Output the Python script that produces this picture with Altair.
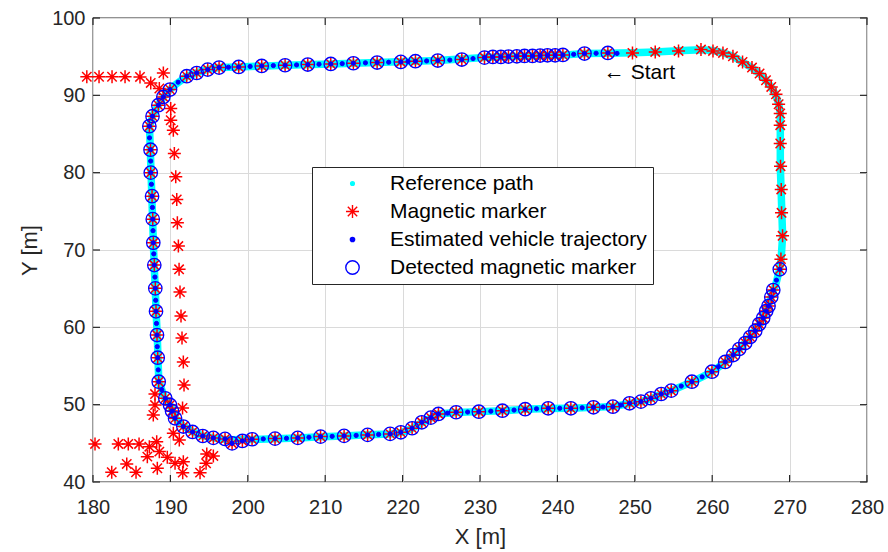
import altair as alt
import pandas as pd

SERIES = ["Reference path", "Magnetic marker", "Estimated vehicle trajectory", "Detected magnetic marker"]
STAR = "M-1,0L1,0M0,-1L0,1M-0.72,-0.72L0.72,0.72M-0.72,0.72L0.72,-0.72"

# Reference path (closed loop), in data units
ref_x = [260.1, 258.5, 255.6, 252.6, 249.7, 246.5, 243.5, 240.7, 236.0, 230.6, 224.5, 216.7, 210.7, 204.8,
         198.8, 196.3, 194.8, 193.4, 192.1, 190.8, 189.9, 189.1, 188.4, 187.7, 187.3, 187.4, 187.5, 187.6,
         187.7, 187.8, 187.9, 188.05, 188.15, 188.3, 188.4, 188.5, 189.3, 190.0, 190.6, 191.7, 192.9, 194.2,
         195.6, 197.5, 200.5, 203.5, 206.5, 209.4, 212.4, 215.5, 218.4, 219.8, 221.2, 222.5, 223.7, 224.6,
         226.9, 229.9, 232.9, 235.8, 238.8, 241.7, 244.7, 247.2, 249.3, 250.8, 252.1, 253.4, 254.7, 257.4,
         260.0, 261.7, 263.5, 264.9, 266.1, 267.0, 267.6, 268.2, 268.7, 268.9, 269.1, 269.0, 268.9, 268.8,
         268.8, 268.8, 268.8, 268.6, 268.2, 267.6, 266.95, 266.1, 265.1, 263.9, 262.7, 261.4, 260.1]
ref_y = [95.8, 95.9, 95.75, 95.6, 95.5, 95.45, 95.4, 95.2, 95.1, 94.88, 94.5, 94.24, 94.06, 93.89,
         93.67, 93.6, 93.35, 92.9, 92.45, 91.5, 90.7, 89.8, 88.7, 87.3, 86.0, 83.0, 80.0, 77.0,
         74.0, 71.0, 68.0, 65.0, 62.0, 59.0, 56.0, 53.0, 50.8, 49.9, 48.3, 47.2, 46.5, 45.95,
         45.7, 45.45, 45.5, 45.6, 45.7, 45.85, 45.95, 46.1, 46.2, 46.4, 46.9, 47.7, 48.3, 48.8,
         49.0, 49.1, 49.2, 49.4, 49.5, 49.55, 49.65, 49.75, 50.15, 50.4, 50.8, 51.35, 51.8, 52.95,
         54.25, 55.5, 57.2, 58.75, 60.4, 62.1, 63.9, 65.5, 67.5, 68.8, 71.8, 74.8, 77.8, 80.8,
         83.8, 86.1, 87.65, 88.85, 90.1, 91.1, 91.95, 92.8, 93.6, 94.3, 95.05, 95.5, 95.8]

# Detected magnetic markers (blue circles)
det_x = [246.52, 243.50, 240.71, 239.71, 238.72, 237.77, 236.78, 235.75, 234.76, 233.68, 232.70, 231.66,
         230.58, 227.65, 224.55, 221.66, 219.77, 216.71, 213.64, 210.72, 207.75, 204.82, 201.80, 198.83,
         196.29, 194.82, 193.40, 192.11, 189.95, 189.09, 188.44, 187.69, 187.28, 187.43, 187.46, 187.63,
         187.72, 187.79, 187.92, 188.05, 188.14, 188.27, 188.36, 188.49, 189.34, 189.95, 190.21, 190.60,
         191.67, 192.86, 194.18, 195.55, 197.06, 197.97, 199.30, 200.55, 203.52, 206.46, 209.40, 212.44,
         215.48, 218.39, 219.77, 221.23, 222.48, 223.65, 224.63, 226.92, 229.85, 232.90, 235.84, 238.81,
         241.74, 244.66, 247.17, 249.32, 250.79, 252.08, 253.41, 254.71, 257.38, 259.97, 261.68, 262.72,
         263.49, 264.27, 264.91, 265.56, 266.08, 266.59, 266.98, 267.28, 267.63, 267.89, 268.73]
det_y = [95.48, 95.40, 95.22, 95.18, 95.18, 95.14, 95.09, 95.09, 95.05, 95.01, 94.96, 94.96,
         94.88, 94.63, 94.50, 94.41, 94.32, 94.24, 94.15, 94.06, 93.98, 93.89, 93.80, 93.67,
         93.59, 93.33, 92.89, 92.47, 90.75, 89.79, 88.72, 87.30, 86.01, 82.97, 80.00, 76.96,
         73.99, 70.93, 68.05, 65.04, 62.07, 59.00, 56.07, 52.97, 50.83, 49.96, 49.18, 48.24,
         47.17, 46.47, 45.95, 45.70, 45.57, 44.99, 45.31, 45.53, 45.61, 45.70, 45.87, 45.96,
         46.09, 46.22, 46.43, 46.95, 47.72, 48.32, 48.80, 49.02, 49.09, 49.22, 49.41, 49.53,
         49.53, 49.66, 49.74, 50.18, 50.39, 50.83, 51.38, 51.81, 52.97, 54.26, 55.52, 56.42,
         57.20, 57.97, 58.75, 59.53, 60.43, 61.20, 62.11, 62.75, 63.91, 64.82, 67.50]

# Magnetic markers not detected (red asterisks only)
und_x = [249.70, 252.64, 255.65, 258.55, 260.10, 261.39, 262.68, 263.92, 265.14, 266.12, 266.95, 267.63,
         268.24, 268.58, 268.79, 268.79, 268.79, 268.83, 268.92, 268.96, 269.09, 268.88,
         189.09, 188.57, 190.04, 190.04, 190.38, 190.51, 190.69, 190.82, 190.90, 191.03, 191.12, 191.24,
         191.37, 191.50, 191.67, 191.76, 191.57,
         179.2, 180.78, 182.46, 184.14, 186.07, 187.46,
         180.26, 183.27, 184.56, 185.95, 187.28, 188.23, 187.02, 188.57, 189.60, 190.60, 182.42, 184.36,
         185.56, 188.31, 190.38, 191.15, 191.67, 191.59, 193.83, 194.70, 195.55, 194.61, 188.01, 188.01, 187.79]
und_y = [95.48, 95.61, 95.74, 95.92, 95.74, 95.48, 95.05, 94.32, 93.59, 92.82, 91.95, 91.09,
         90.14, 88.85, 87.65, 86.14, 83.77, 80.84, 77.83, 74.81, 71.83, 68.82,
         92.89, 90.88, 88.29, 86.78, 85.49, 82.48, 79.46, 76.54, 73.51, 70.51, 67.50, 64.56,
         61.46, 58.62, 55.52, 52.55, 49.57,
         92.4, 92.4, 92.4, 92.41, 92.38, 91.60,
         44.92, 44.92, 44.92, 44.92, 44.57, 45.21, 43.28, 43.93, 43.20, 42.42, 41.26, 42.34,
         41.26, 41.78, 46.30, 45.43, 42.63, 41.21, 41.21, 43.63, 43.37, 42.42, 51.37, 49.95, 48.66]

# Estimated vehicle trajectory dots between detections
mid_x = [247.7, 245.0, 242.1, 229.1, 226.1, 223.1, 220.7, 218.2, 215.2, 212.2, 209.2, 206.3, 203.3, 200.3,
         197.5, 191.0, 187.3, 187.45, 187.55, 187.68, 187.75, 187.85, 188.0, 188.1, 188.2, 188.3, 188.43,
         188.9, 202.0, 205.0, 207.9, 210.9, 214.0, 216.9, 225.8, 228.4, 231.4, 234.4, 237.3, 240.3, 243.2,
         245.9, 248.2, 256.0, 258.7, 260.8, 268.3]
mid_y = [95.42, 95.44, 95.3, 94.75, 94.56, 94.45, 94.37, 94.28, 94.2, 94.1, 94.02, 93.93, 93.85, 93.73,
         93.63, 91.7, 84.5, 81.5, 78.5, 75.5, 72.5, 69.5, 66.5, 63.5, 60.5, 57.5, 54.5,
         51.9, 45.57, 45.65, 45.78, 45.9, 46.02, 46.15, 48.9, 49.05, 49.15, 49.3, 49.47, 49.53, 49.6,
         49.7, 49.95, 52.4, 53.6, 54.9, 66.1]

start_x = [246.0]
start_y = [92.9]
x_ticks = [180, 190, 200, 210, 220, 230, 240, 250, 260, 270, 280]
y_ticks = [40, 50, 60, 70, 80, 90, 100]

ref_df = pd.DataFrame({"x": ref_x, "y": ref_y, "i": list(range(len(ref_x))), "series": SERIES[0]})
mag_df = pd.DataFrame({"x": det_x + und_x, "y": det_y + und_y, "series": SERIES[1]})
est_df = pd.DataFrame({"x": det_x + mid_x, "y": det_y + mid_y, "series": SERIES[2]})
det_df = pd.DataFrame({"x": det_x, "y": det_y, "series": SERIES[3]})

X = alt.X("x:Q", scale=alt.Scale(domain=[180, 280], nice=False, zero=False),
          axis=alt.Axis(values=x_ticks, title="X [m]", format="d"))
Y = alt.Y("y:Q", scale=alt.Scale(domain=[40, 100], nice=False, zero=False),
          axis=alt.Axis(values=y_ticks, title="Y [m]", format="d"))

leg = alt.Legend(orient="none", legendX=219, legendY=149, title=None, padding=6, rowPadding=6,
                 labelFontSize=21, labelFont="Liberation Sans", labelColor="#000000",
                 strokeColor="#262626", fillColor="#ffffff", symbolOffset=24, labelOffset=27,
                 symbolStrokeWidth=1.4, symbolOpacity=1, labelLimit=400)

enc_common = dict(
    fill=alt.Fill("series:N", scale=alt.Scale(domain=SERIES, range=["#00ffff", "#ff0000", "#0000ff", "transparent"]), legend=leg),
    stroke=alt.Stroke("series:N", scale=alt.Scale(domain=SERIES, range=["#00ffff", "#ff0000", "#0000ff", "#0000ff"]), legend=leg),
    shape=alt.Shape("series:N", scale=alt.Scale(domain=SERIES, range=["circle", STAR, "circle", "circle"]), legend=leg),
    size=alt.Size("series:N", scale=alt.Scale(type="ordinal", domain=SERIES, range=[14, 170, 18, 180]), legend=leg),
)

ref_line = alt.Chart(ref_df).mark_line(color="#00ffff", strokeWidth=7.5, strokeJoin="round").encode(
    x=X, y=Y, order="i:Q")
ref_pts = alt.Chart(ref_df).mark_point(opacity=1, strokeWidth=1).encode(x=X, y=Y, **enc_common)
mag_pts = alt.Chart(mag_df).mark_point(opacity=1, strokeWidth=1.5).encode(x=X, y=Y, **enc_common)
est_pts = alt.Chart(est_df).mark_point(opacity=1, strokeWidth=1).encode(x=X, y=Y, **enc_common)
det_pts = alt.Chart(det_df).mark_point(opacity=1, strokeWidth=1.3).encode(x=X, y=Y, **enc_common)

start_txt = alt.Chart(pd.DataFrame({"x": start_x, "y": start_y})).mark_text(
    text="← Start", align="left", baseline="middle", fontSize=21, font="Liberation Sans", color="#000000"
).encode(x=X, y=Y)

xt = pd.DataFrame({"x": x_ticks})
yt = pd.DataFrame({"y": y_ticks})
tick_col = "#262626"
t_bot = alt.Chart(xt).mark_rule(color=tick_col, strokeWidth=1.2).encode(x=X, y=alt.value(464), y2=alt.value(457))
t_top = alt.Chart(xt).mark_rule(color=tick_col, strokeWidth=1.2).encode(x=X, y=alt.value(0), y2=alt.value(7))
t_lft = alt.Chart(yt).mark_rule(color=tick_col, strokeWidth=1.2).encode(y=Y, x=alt.value(0), x2=alt.value(7))
t_rgt = alt.Chart(yt).mark_rule(color=tick_col, strokeWidth=1.2).encode(y=Y, x=alt.value(774), x2=alt.value(767))

chart = alt.layer(ref_line, ref_pts, mag_pts, est_pts, det_pts, start_txt, t_bot, t_top, t_lft, t_rgt).properties(
    width=774, height=464,
    autosize=alt.AutoSizeParams(type="none"),
    padding={"left": 93, "top": 18, "right": 21, "bottom": 70},
).configure_view(
    stroke="#262626", strokeWidth=1.3
).configure_axis(
    domain=False, ticks=False, grid=True, gridColor="#dadada", gridWidth=1, labelFlush=False,
    labelFont="Liberation Sans", labelFontSize=20, labelColor="#262626", labelPadding=10,
    titleFont="Liberation Sans", titleFontSize=22, titleFontWeight="normal", titleColor="#262626",
).configure_axisX(titlePadding=9, labelPadding=15).configure_axisY(titlePadding=10, labelPadding=8)

chart.save("out.html", embed_options={"renderer": "svg", "actions": False})
